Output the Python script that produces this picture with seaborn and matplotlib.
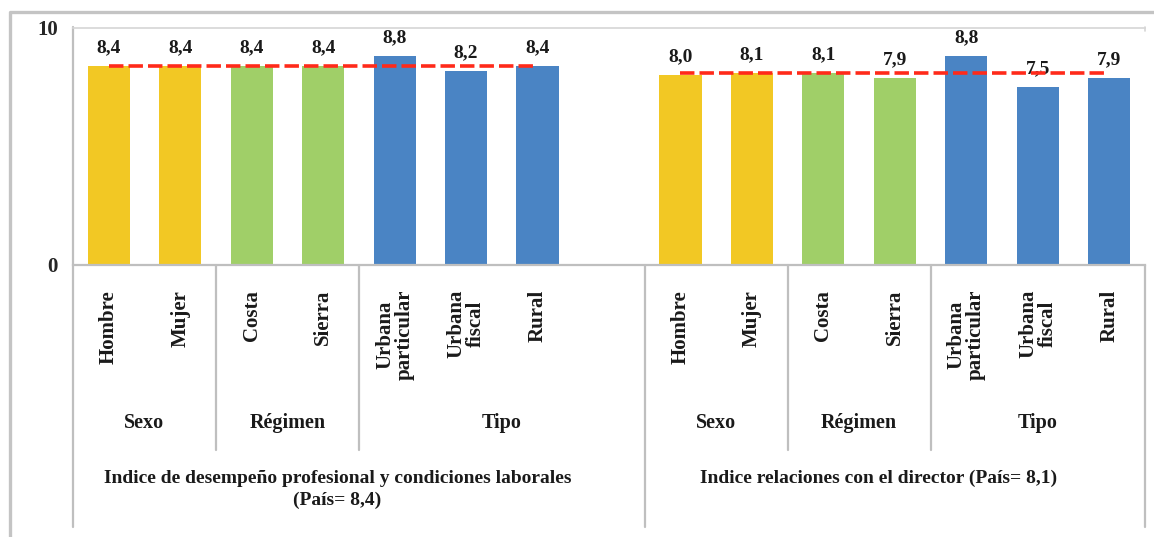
import pandas as pd
import numpy as np
import matplotlib.pyplot as plt
import seaborn as sns

# datos
indices = ["Indice de desempeño profesional y condiciones laborales\n(País= 8,4)",
           "Indice relaciones con el director (País= 8,1)"]
categorias = ["Hombre", "Mujer", "Costa", "Sierra", "Urbana\nparticular", "Urbana\nfiscal", "Rural"]
grupos = ["Sexo", "Sexo", "Régimen", "Régimen", "Tipo", "Tipo", "Tipo"]
valores_desempeno = [8.4, 8.4, 8.4, 8.4, 8.8, 8.2, 8.4]
valores_director = [8.0, 8.1, 8.1, 7.9, 8.8, 7.5, 7.9]
pais = [8.4, 8.1]

colores = {"Sexo": "#F2C824", "Régimen": "#A0CF68", "Tipo": "#4A84C4"}

sns.set_style("white")
plt.rcParams['font.family'] = ['Liberation Serif', 'DejaVu Serif']
plt.rcParams['font.weight'] = 'bold'

offsets = [0, 8]
rows = []
for k, vals in enumerate([valores_desempeno, valores_director]):
    for i, (c, g, v) in enumerate(zip(categorias, grupos, vals)):
        rows.append({"indice": k, "pos": offsets[k] + i, "categoria": c, "grupo": g, "valor": v})
df = pd.DataFrame(rows)

W, H = 1154, 537
fig = plt.figure(figsize=(W / 100, H / 100), dpi=100)
ax_left, ax_right, ax_bottom, ax_top = 73, 1145, 265, 28
ax = fig.add_axes([ax_left / W, (H - ax_bottom) / H, (ax_right - ax_left) / W, (ax_bottom - ax_top) / H])

sns.barplot(data=df, x="pos", y="valor", hue="grupo", palette=colores, native_scale=True,
            width=0.59, dodge=False, saturation=1, legend=False, ax=ax, edgecolor="none")

ax.set_xlim(-0.5, 14.5)
ax.set_ylim(0, 10)
ax.set_xticks([])
ax.set_yticks([0, 10])
ax.set_yticklabels(["0", "10"], fontsize=15, fontweight='bold')
ax.tick_params(axis='y', length=0, pad=11)
ax.set_xlabel("")
ax.set_ylabel("")

ax.spines["right"].set_visible(False)
ax.spines["top"].set_color("#d6d6d6")
ax.spines["top"].set_linewidth(1.2)
ax.spines["left"].set_visible(False)
ax.spines["bottom"].set_color("#bfbfbf")
ax.spines["bottom"].set_linewidth(1.6)

# linea del pais
for k in range(2):
    ax.plot([offsets[k], offsets[k] + 6], [pais[k], pais[k]], color="#FF2A1A",
            lw=2.6, dashes=(4, 1.4), zorder=5)

# etiquetas de valores
for _, r in df.iterrows():
    ax.annotate(f"{r['valor']:.1f}".replace(".", ","), (r["pos"], r["valor"]),
                xytext=(0, 7), textcoords="offset points", ha="center", va="bottom",
                fontsize=14, fontweight="bold", color="#1a1a1a")

def ya(py):
    return (ax_bottom - py) / (ax_bottom - ax_top)

trans = ax.get_xaxis_transform()
gris = "#bfbfbf"

# eje izquierdo prolongado y separadores
ax.plot([-0.5, -0.5], [ya(527), ya(27)], color=gris, lw=1.6, transform=trans, clip_on=False)
ax.plot([14.5, 14.5], [ya(527), ya(265)], color=gris, lw=1.6, transform=trans, clip_on=False)
ax.plot([14.5, 14.5], [ya(31), ya(27)], color="#d6d6d6", lw=1.2, transform=trans, clip_on=False)
ax.plot([7.5, 7.5], [ya(527), ya(265)], color=gris, lw=1.6, transform=trans, clip_on=False)
for x in [1.5, 3.5, 9.5, 11.5]:
    ax.plot([x, x], [ya(450), ya(265)], color=gris, lw=1.6, transform=trans, clip_on=False)

# categorias
for _, r in df.iterrows():
    ax.text(r["pos"], ya(290), r["categoria"], rotation=90, ha="center", va="top",
            multialignment="center", fontsize=15, fontweight="bold", color="#1a1a1a",
            transform=trans, linespacing=0.95)

# grupos
spans = {0: {"Sexo": (-0.5, 1.5), "Régimen": (1.5, 3.5), "Tipo": (3.5, 7.5)},
         1: {"Sexo": (7.5, 9.5), "Régimen": (9.5, 11.5), "Tipo": (11.5, 14.5)}}
for k in range(2):
    for g, (a, b) in spans[k].items():
        ax.text((a + b) / 2, ya(423), g, ha="center", va="center", fontsize=14.5,
                fontweight="bold", color="#1a1a1a", transform=trans)

# titulos de indice
ax.text(3.2, ya(470), indices[0], ha="center", va="top", fontsize=14, fontweight="bold",
        color="#1a1a1a", transform=trans, linespacing=1.35)
ax.text(10.77, ya(470), indices[1], ha="center", va="top", fontsize=14, fontweight="bold",
        color="#1a1a1a", transform=trans)

# marco exterior
fig.add_artist(plt.Line2D([10 / W, 10 / W, 1.0], [0, 1 - 12 / H, 1 - 12 / H],
                          color="#c4c4c4", lw=2.4, transform=fig.transFigure))

fig.savefig("out.png", dpi=100)
